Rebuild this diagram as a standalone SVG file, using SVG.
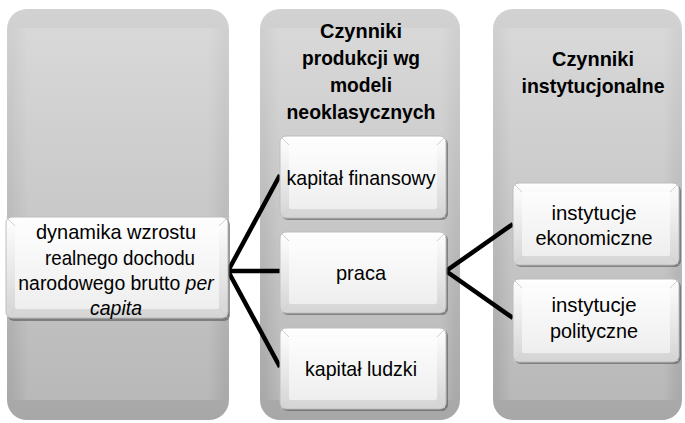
<svg xmlns="http://www.w3.org/2000/svg" width="685" height="423" viewBox="0 0 685 423">
<defs>
<linearGradient id="colG" x1="0" y1="0" x2="0" y2="1">
<stop offset="0" stop-color="#d2d2d2"/>
<stop offset="1" stop-color="#a7a7a7"/>
</linearGradient>
<linearGradient id="colHi" x1="0" y1="0" x2="1" y2="0">
<stop offset="0" stop-color="#ffffff" stop-opacity="0"/>
<stop offset="0.08" stop-color="#ffffff" stop-opacity="0.18"/>
<stop offset="0.92" stop-color="#ffffff" stop-opacity="0.18"/>
<stop offset="1" stop-color="#ffffff" stop-opacity="0"/>
</linearGradient>
<linearGradient id="boxG" x1="0" y1="0" x2="0" y2="1">
<stop offset="0" stop-color="#ffffff"/>
<stop offset="1" stop-color="#d4d4d4"/>
</linearGradient>
<linearGradient id="faceG" x1="0" y1="0" x2="0" y2="1">
<stop offset="0" stop-color="#fdfdfd"/>
<stop offset="1" stop-color="#eeeeee"/>
</linearGradient>
</defs>
<style>
.col{fill:url(#colG);}
.colhi{fill:url(#colHi);}
.shadow{fill:#555555;opacity:0.6;}
.box{fill:url(#boxG);stroke:#bdbdbd;stroke-width:1;}
.face{fill:url(#faceG);}
.bev{stroke:#d0d0d0;stroke-width:1;fill:none;}
.t{font-family:"Liberation Sans",Arial,sans-serif;font-size:21px;fill:#000;text-anchor:middle;}
.h{font-weight:bold;}
.i{font-style:italic;}
.con{stroke:#000;stroke-width:4.5;fill:none;stroke-linecap:butt;stroke-linejoin:miter;}
</style>

<g id="column1">
<rect class="col" x="7" y="9" width="222" height="411" rx="20"/>
<rect class="colhi" x="11" y="28" width="214" height="372"/>
</g>
<g id="column2">
<rect class="col" x="260" y="9" width="200" height="411" rx="20"/>
<rect class="colhi" x="264" y="28" width="192" height="372"/>
<text class="t h" x="361" y="38" textLength="82" lengthAdjust="spacingAndGlyphs">Czynniki</text>
<text class="t h" x="361" y="65" textLength="118" lengthAdjust="spacingAndGlyphs">produkcji wg</text>
<text class="t h" x="361" y="92" textLength="62" lengthAdjust="spacingAndGlyphs">modeli</text>
<text class="t h" x="361" y="119" textLength="149" lengthAdjust="spacingAndGlyphs">neoklasycznych</text>
</g>
<g id="column3">
<rect class="col" x="493" y="9" width="189" height="411" rx="20"/>
<rect class="colhi" x="497" y="28" width="181" height="372"/>
<text class="t h" x="593" y="66" textLength="82" lengthAdjust="spacingAndGlyphs">Czynniki</text>
<text class="t h" x="593" y="93" textLength="143" lengthAdjust="spacingAndGlyphs">instytucjonalne</text>
</g>

<g id="connectors">
<polyline class="con" points="280,175 228,271 280,367"/>
<line class="con" x1="228" y1="271" x2="280" y2="271"/>
<polyline class="con" points="513,224 446,271 513,318"/>
</g>

<g id="node-dynamika">
<rect class="shadow" x="8" y="219" width="222" height="102" rx="6"/>
<rect class="box" x="6" y="217" width="222" height="101" rx="6"/>
<rect class="face" x="15" y="226" width="204" height="83" rx="2"/>
<path class="bev" d="M6.5,217.5 L15,226 M227.5,217.5 L219,226 M6.5,317.5 L15,309 M227.5,317.5 L219,309"/>
<text class="t" x="116" y="239" textLength="160" lengthAdjust="spacingAndGlyphs">dynamika wzrostu</text>
<text class="t" x="120" y="265" textLength="150" lengthAdjust="spacingAndGlyphs">realnego dochodu</text>
<text class="t" transform="translate(116,290) scale(0.925,1)" x="0" y="0">narodowego brutto <tspan class="i">per</tspan></text>
<text class="t i" x="116" y="315" textLength="52" lengthAdjust="spacingAndGlyphs">capita</text>
</g>

<g id="node-kapital-finansowy">
<rect class="shadow" x="282" y="138" width="166" height="82" rx="6"/>
<rect class="box" x="280" y="136" width="166" height="82" rx="6"/>
<rect class="face" x="289" y="145" width="148" height="64" rx="2"/>
<path class="bev" d="M280.5,136.5 L289,145 M445.5,136.5 L437,145 M280.5,217.5 L289,209 M445.5,217.5 L437,209"/>
<text class="t" x="361" y="185" textLength="149" lengthAdjust="spacingAndGlyphs">kapitał finansowy</text>
</g>

<g id="node-praca">
<rect class="shadow" x="282" y="234" width="166" height="81" rx="6"/>
<rect class="box" x="280" y="232" width="166" height="81" rx="6"/>
<rect class="face" x="289" y="241" width="148" height="63" rx="2"/>
<path class="bev" d="M280.5,232.5 L289,241 M445.5,232.5 L437,241 M280.5,312.5 L289,304 M445.5,312.5 L437,304"/>
<text class="t" x="361" y="280" textLength="50" lengthAdjust="spacingAndGlyphs">praca</text>
</g>

<g id="node-kapital-ludzki">
<rect class="shadow" x="282" y="330" width="166" height="81" rx="6"/>
<rect class="box" x="280" y="328" width="166" height="81" rx="6"/>
<rect class="face" x="289" y="337" width="148" height="63" rx="2"/>
<path class="bev" d="M280.5,328.5 L289,337 M445.5,328.5 L437,337 M280.5,408.5 L289,400 M445.5,408.5 L437,400"/>
<text class="t" x="361" y="376" textLength="112" lengthAdjust="spacingAndGlyphs">kapitał ludzki</text>
</g>

<g id="node-instytucje-ekonomiczne">
<rect class="shadow" x="515" y="185" width="166" height="82" rx="6"/>
<rect class="box" x="513" y="183" width="166" height="82" rx="6"/>
<rect class="face" x="522" y="192" width="148" height="64" rx="2"/>
<path class="bev" d="M513.5,183.5 L522,192 M678.5,183.5 L670,192 M513.5,264.5 L522,256 M678.5,264.5 L670,256"/>
<text class="t" x="594" y="220" textLength="85" lengthAdjust="spacingAndGlyphs">instytucje</text>
<text class="t" x="594" y="245" textLength="117" lengthAdjust="spacingAndGlyphs">ekonomiczne</text>
</g>

<g id="node-instytucje-polityczne">
<rect class="shadow" x="515" y="281" width="166" height="83" rx="6"/>
<rect class="box" x="513" y="279" width="166" height="83" rx="6"/>
<rect class="face" x="522" y="288" width="148" height="65" rx="2"/>
<path class="bev" d="M513.5,279.5 L522,288 M678.5,279.5 L670,288 M513.5,361.5 L522,353 M678.5,361.5 L670,353"/>
<text class="t" x="594" y="312" textLength="85" lengthAdjust="spacingAndGlyphs">instytucje</text>
<text class="t" x="594" y="338" textLength="88" lengthAdjust="spacingAndGlyphs">polityczne</text>
</g>
</svg>
